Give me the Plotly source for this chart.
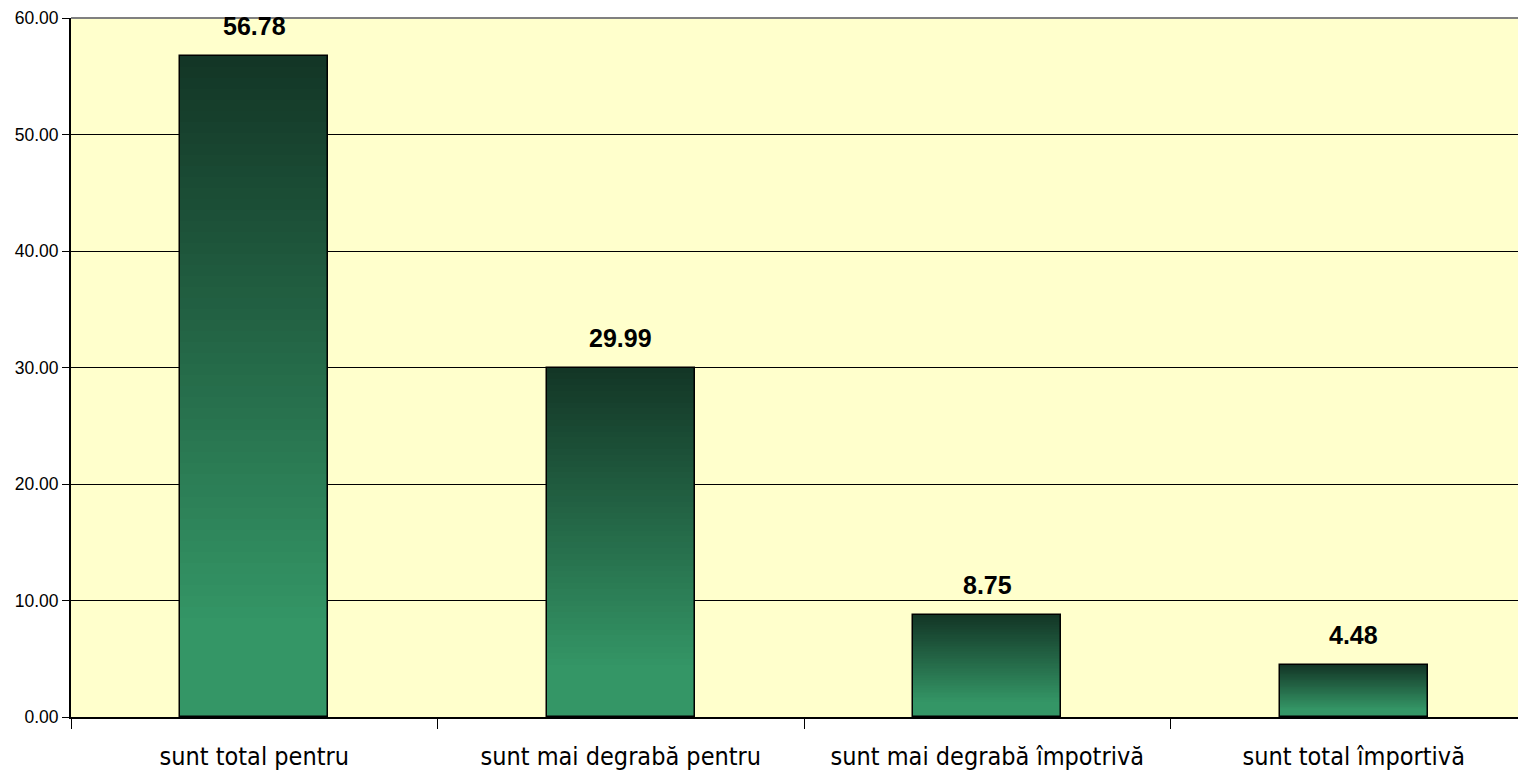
import plotly.graph_objects as go

categories = ["sunt total pentru", "sunt mai degrabă pentru", "sunt mai degrabă împotrivă", "sunt total împortivă"]
values = [56.78, 29.99, 8.75, 4.48]
y_ticks = [0, 10, 20, 30, 40, 50, 60]
y_tick_labels = ["0.00", "10.00", "20.00", "30.00", "40.00", "50.00", "60.00"]

DARK = (19, 54, 38)
LIGHT = (52, 150, 102)
N_STEPS = 60
BAR_WIDTH = 0.404


def shade(s):
    t = min(1.0, s / 0.85)
    r, g, b = (round(DARK[i] + (LIGHT[i] - DARK[i]) * t) for i in range(3))
    return f"rgb({r},{g},{b})"


fig = go.Figure()

# gradient fill: overlaid bars of decreasing height, darkest (tallest) first
for k in range(N_STEPS):
    frac = (N_STEPS - k) / N_STEPS
    fig.add_trace(go.Bar(
        x=categories,
        y=[v * frac for v in values],
        width=BAR_WIDTH,
        marker=dict(color=shade(k / N_STEPS), line=dict(width=0)),
        hoverinfo="skip",
        showlegend=False,
    ))

# outline bar
fig.add_trace(go.Bar(
    x=categories,
    y=values,
    width=BAR_WIDTH,
    marker=dict(color="rgba(0,0,0,0)", line=dict(color="black", width=1.5)),
    showlegend=False,
))

for c, v in zip(categories, values):
    fig.add_annotation(
        x=c, y=v, text=f"<b>{v:.2f}</b>", showarrow=False,
        yanchor="bottom", yshift=14,
        font=dict(family="Liberation Sans, Arial", size=25, color="black"),
    )

fig.add_shape(type="line", xref="paper", yref="paper", x0=0, x1=1, y0=1, y1=1,
              line=dict(color="#808080", width=2), layer="above")

fig.update_layout(
    width=1518, height=766,
    barmode="overlay",
    bargap=0,
    paper_bgcolor="white",
    plot_bgcolor="#ffffcc",
    margin=dict(l=63, r=0, t=10, b=57),
    xaxis=dict(
        type="category",
        range=[-0.5, 3.47],
        showgrid=False,
        showline=True, linecolor="black", linewidth=2,
        ticks="outside", tickson="boundaries", ticklen=10, tickcolor="black", tickwidth=1,
        tickfont=dict(family="DejaVu Sans Condensed", size=25, color="black"),
        ticklabelstandoff=16,
    ),
    yaxis=dict(
        range=[0, 60],
        tickvals=y_ticks, ticktext=y_tick_labels,
        showgrid=True, gridcolor="black", gridwidth=1,
        showline=True, linecolor="black", linewidth=2,
        ticks="outside", ticklen=7, tickcolor="black", tickwidth=1,
        tickfont=dict(family="Liberation Sans, Arial", size=17.5, color="black"),
        zeroline=False,
    ),
)

fig.write_html("out.html")
